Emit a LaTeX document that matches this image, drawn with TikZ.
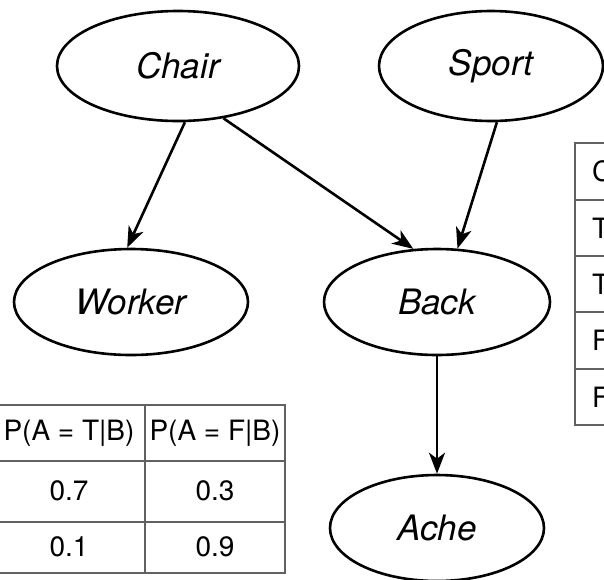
\documentclass[tikz,border=0pt]{standalone}
\usepackage{fontspec}
\setmainfont{TeX Gyre Heros}
\usetikzlibrary{shapes.geometric,arrows.meta}

\tikzset{
  var/.style={draw=black, line width=2.6pt, ellipse, inner sep=0pt,
    font=\fontsize{35}{42}\selectfont\itshape},
  link/.style={line width=2.6pt, draw=black,
    -{Stealth[length=21pt,width=16pt,inset=6pt]}},
  grid/.style={draw=black!62, line width=2.4pt},
  cell/.style={inner sep=0pt, font=\fontsize{28}{34}\selectfont},
  edgecell/.style={cell, anchor=west}
}

\begin{document}
\begin{tikzpicture}[x=1pt, y=-1pt]
\useasboundingbox (0,0) rectangle (604,579);
\clip (0,0) rectangle (604,579);
\fill[white] (0,0) rectangle (604,579);

% Network variables
\node[var, minimum width=242pt, minimum height=110pt] (chair)  at (178,66)  {Chair};
\node[var, minimum width=224pt, minimum height=110pt] (sport)  at (491,66)  {Sport};
\node[var, minimum width=234pt, minimum height=106pt] (worker) at (131,302) {Worker};
\node[var, minimum width=226pt, minimum height=106pt] (back)   at (437,302) {Back};
\node[var, minimum width=214pt, minimum height=106pt] (ache)   at (437,528) {Ache};

% Dependencies
\draw[link] (chair.-83)  -- (worker.94);
\draw[link] (chair.-49)  -- (back.114);
\draw[link] (sport.-84)  -- (back.69);
\draw[link] (back.south) -- (ache.north);

% Conditional table for Ache given Back
\draw[grid] (-10,405) -- (285,405) -- (285,573) -- (-10,573);
\draw[grid] (-10,461) -- (285,461);
\draw[grid] (-10,522) -- (285,522);
\draw[grid] (145,405) -- (145,573);
\node[cell] (hT) at (69,433)  {P(A = T|B)};
\node[cell] (hF) at (215,433) {P(A = F|B)};
\node[cell] (a1) at (69,491)  {0.7};
\node[cell] (b1) at (215,491) {0.3};
\node[cell] (a2) at (69,547)  {0.1};
\node[cell] (b2) at (215,547) {0.9};

% Conditional table for Back, running past the right edge
\draw[grid] (620,143) -- (575,143) -- (575,425) -- (620,425);
\foreach \yy in {200,256,312,369} \draw[grid] (575,\yy) -- (620,\yy);
\node[edgecell] (rc)  at (592,171) {C};
\node[edgecell] (rt1) at (592,228) {T};
\node[edgecell] (rt2) at (592,284) {T};
\node[edgecell] (rf1) at (592,340) {F};
\node[edgecell] (rf2) at (592,397) {F};
\end{tikzpicture}
\end{document}
